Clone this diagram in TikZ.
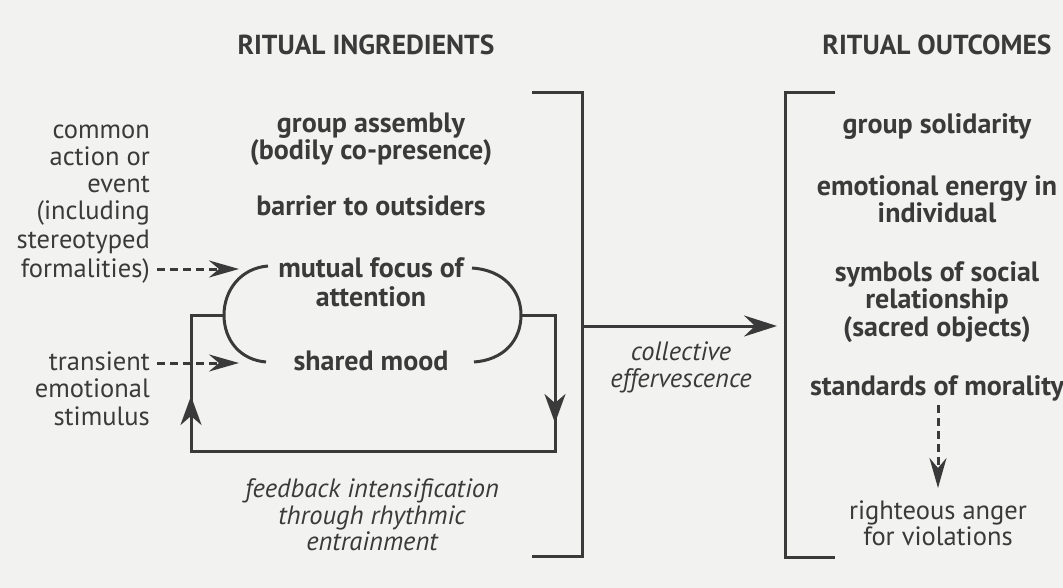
\documentclass[tikz,border=0pt]{standalone}
\usepackage{fontspec}
\setmainfont{PT Sans}
\usetikzlibrary{arrows.meta}
\definecolor{ink}{HTML}{3A3A3A}
\definecolor{paper}{HTML}{F2F2F0}
\begin{document}
\begin{tikzpicture}[x=1pt,y=-1pt,
  every node/.style={inner sep=0pt, text=ink, anchor=base},
  hd/.style={font=\fontsize{27.5}{30}\selectfont\bfseries},
  bd/.style={font=\fontsize{28}{30}\selectfont\bfseries},
  rg/.style={font=\fontsize{26.5}{30}\selectfont},
  it/.style={font=\fontsize{26.5}{30}\selectfont\itshape},
  rt/.style={anchor=base east},
  ln/.style={draw=ink, line width=3pt},
  dln/.style={draw=ink, line width=3pt, dash pattern=on 8pt off 5pt},
  bigtip/.style={-{Stealth[length=33pt,width=21pt,inset=11pt]}},
  smtip/.style={-{Stealth[length=30pt,width=17pt,inset=10pt]}},
  looptip/.style={-{Stealth[length=29pt,width=21pt,inset=9pt]}}
]
\fill[paper] (0,0) rectangle (1063,588);
\useasboundingbox (0,0) rectangle (1063,588);

% headers
\node[hd] (h1) at (366,55) {RITUAL INGREDIENTS};
\node[hd] (h2) at (937,55) {RITUAL OUTCOMES};

% ingredients
\node[bd] (ga1) at (371,133) {group assembly};
\node[bd] (ga2) at (371,160) {(bodily co-presence)};
\node[bd] (bar) at (371,216) {barrier to outsiders};
\node[bd] (mf1) at (371,277) {mutual focus of};
\node[bd] (mf2) at (371,306) {attention};
\node[bd] (sm) at (371,370) {shared mood};

% left side
\node[rg,rt] (c1) at (150,139) {common};
\node[rg,rt] (c2) at (150,166) {action or};
\node[rg,rt] (c3) at (150,193) {event};
\node[rg,rt] (c4) at (150,220) {(including};
\node[rg,rt] (c5) at (150,248) {stereotyped};
\node[rg,rt] (c6) at (150,277) {formalities)};
\node[rg,rt] (t1) at (150,370) {transient};
\node[rg,rt] (t2) at (150,397) {emotional};
\node[rg,rt] (t3) at (150,425) {stimulus};

% feedback
\node[it] (f1) at (372,497) {feedback intensification};
\node[it] (f2) at (372,524) {through rhythmic};
\node[it] (f3) at (372,550) {entrainment};

% collective
\node[it] (ce1) at (681,360) {collective};
\node[it] (ce2) at (681,387) {effervescence};

% outcomes
\node[bd] (o1) at (937,134) {group solidarity};
\node[bd] (o2) at (937,196) {emotional energy in};
\node[bd] (o3) at (937,223) {individual};
\node[bd] (o4) at (937,281) {symbols of social};
\node[bd] (o5) at (937,308) {relationship};
\node[bd] (o6) at (937,336) {(sacred objects)};
\node[bd] (o7) at (937,395) {standards of morality};
\node[rg] (r1) at (938,519) {righteous anger};
\node[rg] (r2) at (938,545) {for violations};

% brackets
\coordinate (lbt) at (532,93);
\coordinate (lbtr) at (582,93);
\coordinate (lbbr) at (582,556);
\coordinate (lbb) at (532,556);
\coordinate (rbt) at (835,93);
\coordinate (rbtl) at (785,93);
\coordinate (rbbl) at (785,557);
\coordinate (rbb) at (835,557);
\draw[ln] (lbt) -- (lbtr) -- (lbbr) -- (lbb);
\draw[ln] (rbt) -- (rbtl) -- (rbbl) -- (rbb);

% main arrow
\coordinate (ms) at (582,326);
\coordinate (me) at (777,326);
\draw[ln,bigtip] (ms) -- (me);

% arcs
\coordinate (la1) at (268,266);
\coordinate (lam) at (224,315);
\coordinate (la2) at (266,362);
\coordinate (ra1) at (472,268);
\coordinate (ram) at (521,315);
\coordinate (ra2) at (474,362);
\draw[ln] (la1) .. controls (241,268) and (224,290) .. (lam) .. controls (224,341) and (241,360) .. (la2);
\draw[ln] (ra1) .. controls (503,270) and (521,290) .. (ram) .. controls (521,341) and (503,360) .. (ra2);

% feedback loop
\coordinate (tr) at (555,315);
\coordinate (br) at (555,451);
\coordinate (bl) at (191,451);
\coordinate (tl) at (191,315);
\coordinate (dtip) at (555,423);
\coordinate (dstart) at (555,380);
\coordinate (utip) at (191,396);
\coordinate (ustart) at (191,440);
\draw[ln] (ram) -- (tr) -- (br) -- (bl) -- (tl) -- (lam);
\draw[ln,looptip] (dstart) -- (dtip);
\draw[ln,looptip] (ustart) -- (utip);

% dashed input arrows
\coordinate (d1s) at (157,269);
\coordinate (d1e) at (239,269);
\coordinate (d2s) at (157,363);
\coordinate (d2e) at (239,363);
\draw[dln,smtip] (d1s) -- (d1e);
\draw[dln,smtip] (d2s) -- (d2e);

% morality arrow
\coordinate (m1) at (938,405);
\coordinate (m2) at (938,488);
\draw[dln,smtip] (m1) -- (m2);
\end{tikzpicture}
\end{document}
